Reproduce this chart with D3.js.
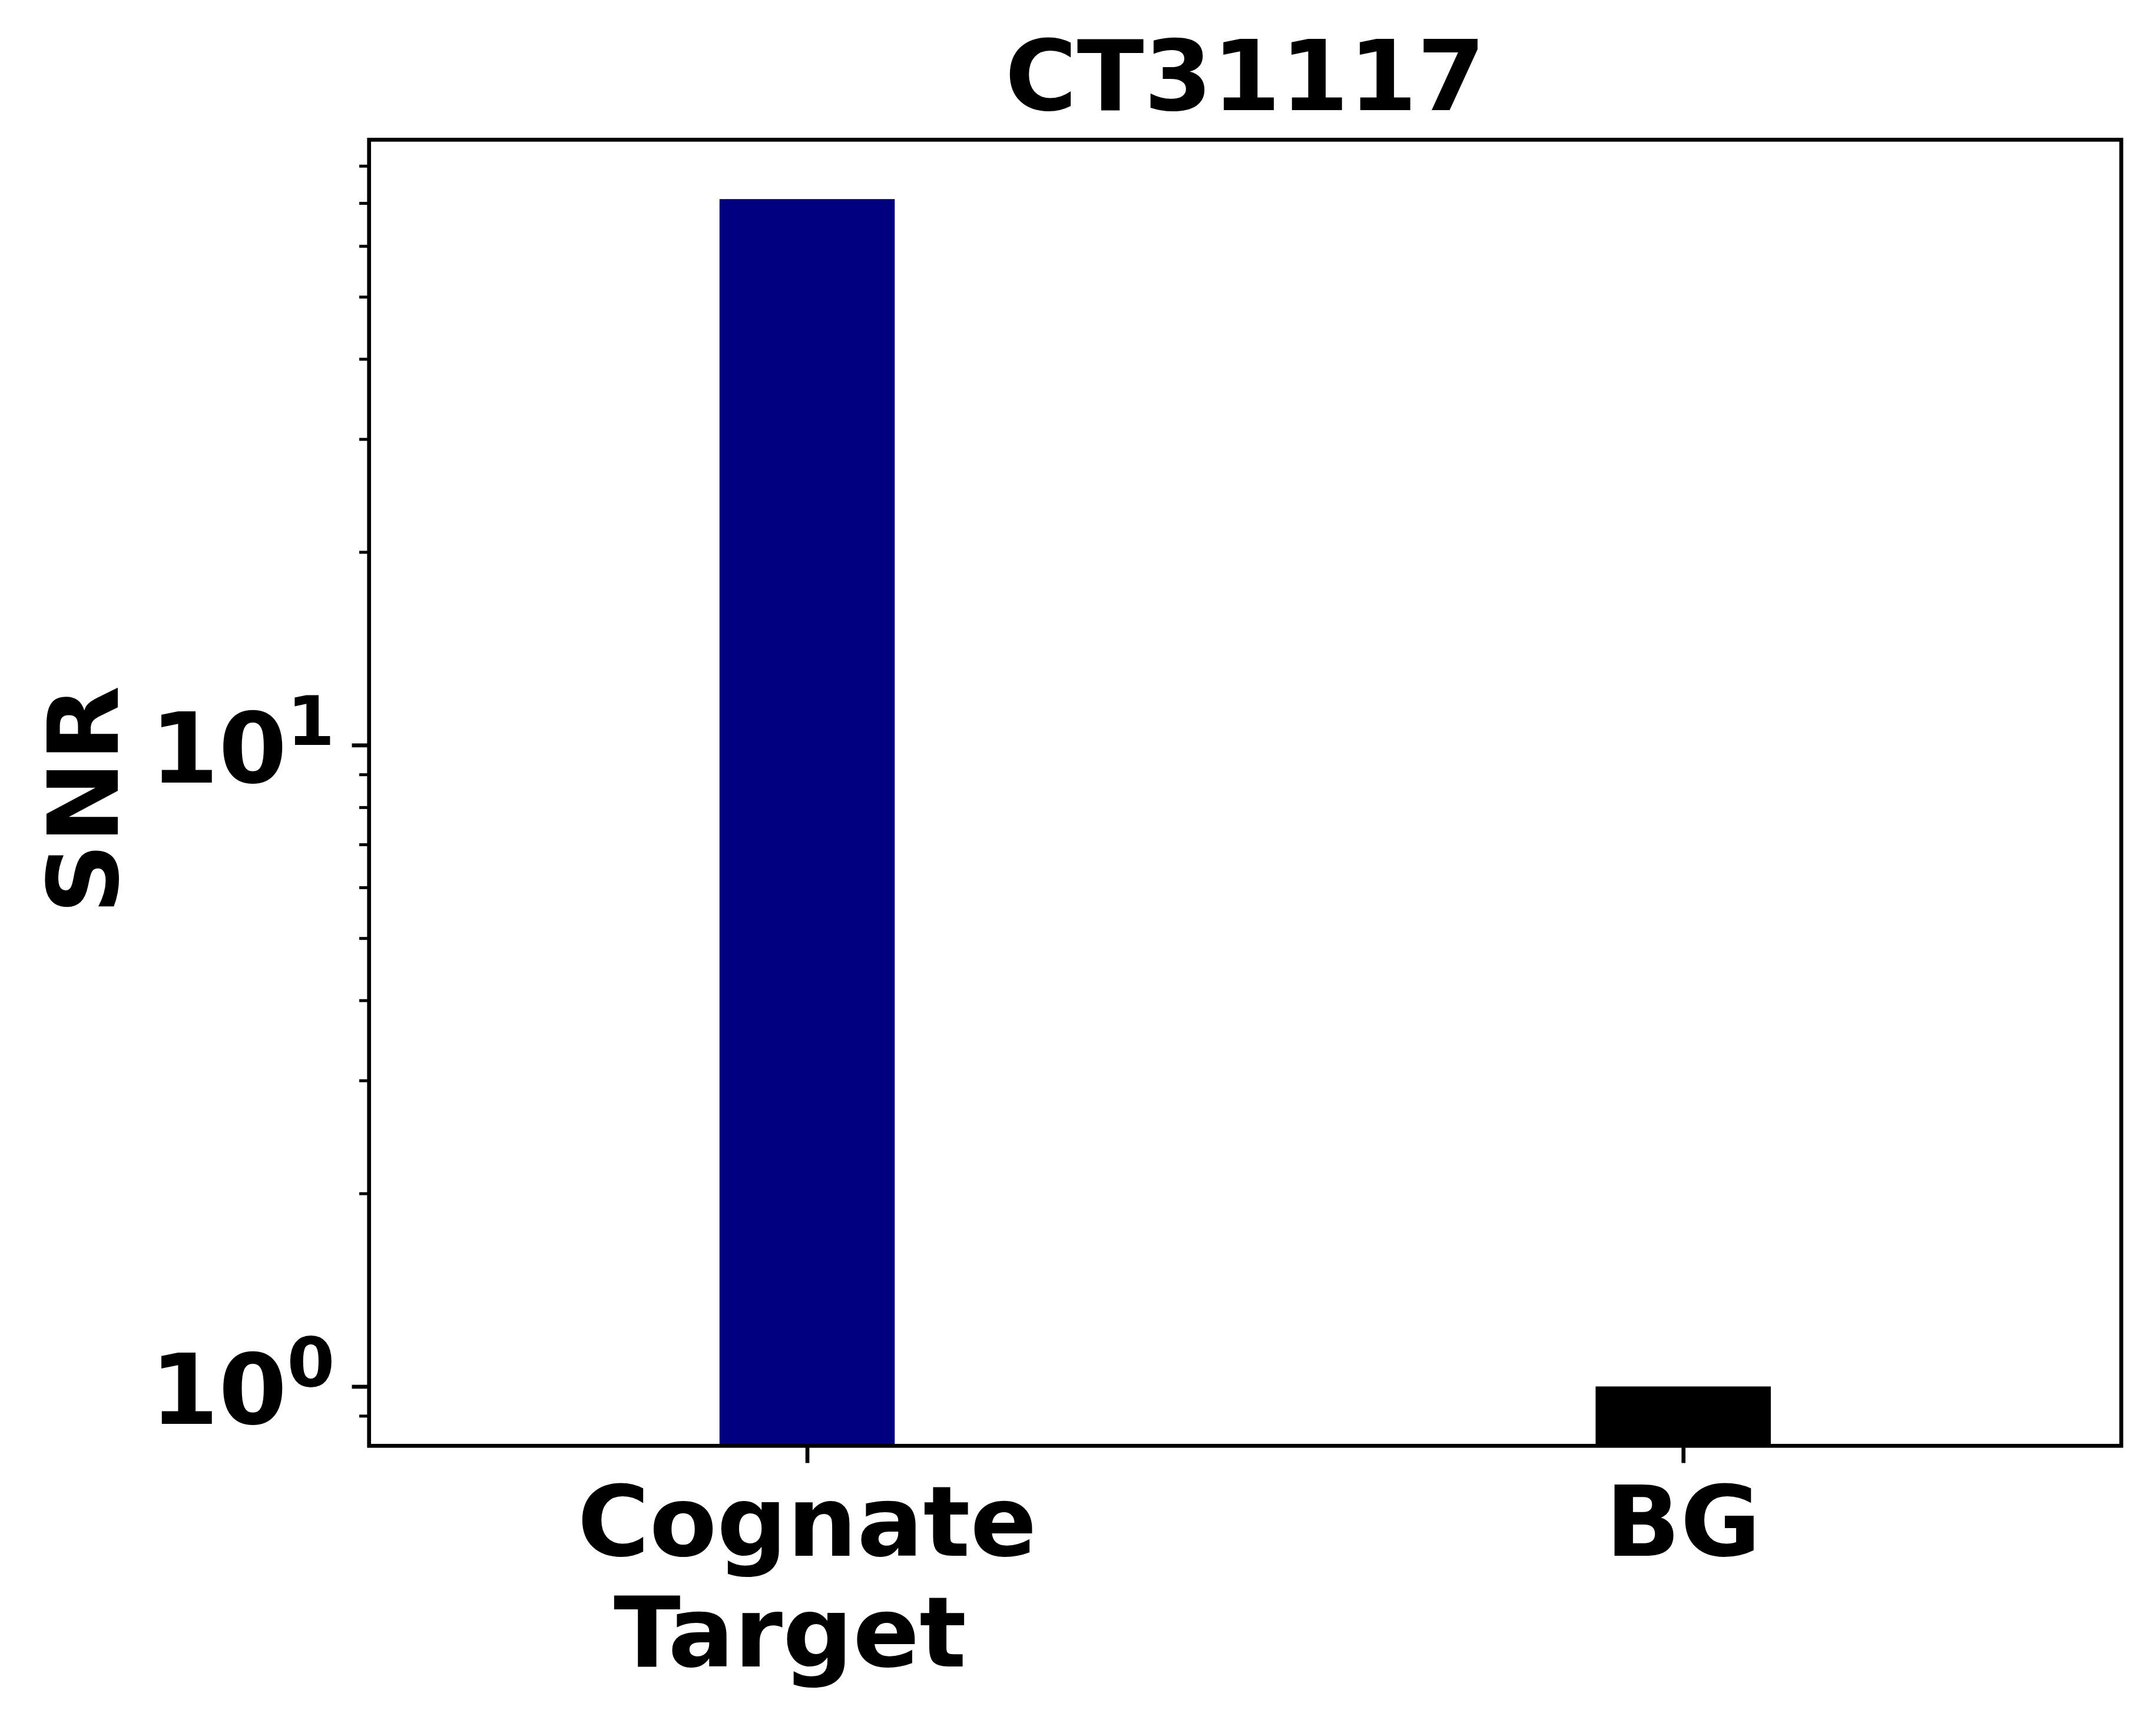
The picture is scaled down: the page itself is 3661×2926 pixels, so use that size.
<!DOCTYPE html>
<html>
<head>
<meta charset="utf-8">
<title>CT31117</title>
<style>
  body { margin: 0; background: #fff; }
  text { font-family: "DejaVu Sans"; font-weight: bold; fill: #000; }
</style>
</head>
<body>
<script src="https://cdn.jsdelivr.net/npm/d3@7"></script>
<script>

var categories = ['Cognate\nTarget ', 'BG'],
    snr        = [71.0, 1.0],
    colors     = ['#000080', '#000000'],
    majorTicks = [1, 10],
    minorTicks = [0.9, 2, 3, 4, 5, 6, 7, 8, 9, 20, 30, 40, 50, 60, 70, 80],
    title      = 'CT31117',
    yLabel     = 'SNR';

var W = 3661, H = 2926,
    pt = 600 / 72,               // figure was 600 dpi
    m = {top: 237.3, right: 59, bottom: 470.7, left: 626.7},
    w = W - m.left - m.right,
    h = H - m.top - m.bottom,
    fs = 20 * pt;

var svg = d3.select('body').append('svg')
            .attr('width', W)
            .attr('height', H),
    g = svg.append('g')
           .attr('transform', 'translate(' + m.left + ',' + m.top + ')');

var x = d3.scaleLinear()
          .domain([-0.5, categories.length - 0.5])
          .range([0, w]);

// log autoscale with 5% margins, like matplotlib
var lo = Math.log10(d3.min(snr)),
    hi = Math.log10(d3.max(snr)),
    pad = 0.05 * (hi - lo),
    y = d3.scaleLog()
          .domain([Math.pow(10, lo - pad), Math.pow(10, hi + pad)])
          .range([h, 0]);

var barW = x(0.1) - x(-0.1);

g.selectAll('rect.bar')
 .data(snr)
 .enter()
 .append('rect')
 .attr('class', 'bar')
 .attr('x', function(d, i){ return x(i) - barW / 2 })
 .attr('y', function(d){ return y(d) })
 .attr('width', barW)
 .attr('height', function(d){ return h - y(d) })
 .attr('fill', function(d, i){ return colors[i] });

// x axis ticks
var xa = g.append('g')
          .attr('transform', 'translate(0,' + h + ')')
          .call(d3.axisBottom(x)
                  .tickValues(d3.range(categories.length))
                  .tickSize(3.5 * pt)
                  .tickFormat(''));
xa.select('.domain').remove();
xa.selectAll('line').attr('stroke', '#000').attr('stroke-width', 0.8 * pt);

var xl = g.selectAll('text.xl')
          .data(categories)
          .enter()
          .append('text')
          .attr('class', 'xl')
          .attr('text-anchor', 'middle')
          .style('font-size', fs + 'px')
          .style('white-space', 'pre')
          .attr('y', h + 186.7);

xl.each(function(d, i){
  d3.select(this).selectAll('tspan')
    .data(d.split('\n'))
    .enter()
    .append('tspan')
    .attr('x', x(i))
    .attr('dy', function(s, j){ return j ? 188 : 0 })
    .text(function(s){ return s });
});

// y axis: major + minor ticks
var ya = g.append('g')
          .call(d3.axisLeft(y).tickValues(majorTicks).tickSize(3.5 * pt).tickFormat(''));
ya.select('.domain').remove();
ya.selectAll('line').attr('stroke', '#000').attr('stroke-width', 0.8 * pt);

var ym = g.append('g')
          .call(d3.axisLeft(y).tickValues(minorTicks).tickSize(2 * pt).tickFormat(''));
ym.select('.domain').remove();
ym.selectAll('line').attr('stroke', '#000').attr('stroke-width', 0.6 * pt);

var yl = g.selectAll('text.yl')
          .data(majorTicks)
          .enter()
          .append('text')
          .attr('class', 'yl')
          .attr('text-anchor', 'end')
          .style('font-size', fs + 'px')
          .attr('x', -7 * pt)
          .attr('y', function(d){ return y(d) + 64 });

yl.append('tspan').text('10');
yl.append('tspan')
  .attr('dy', -64)
  .style('font-size', (0.7 * fs) + 'px')
  .text(function(d){ return Math.round(Math.log10(d)) });

// frame
g.append('rect')
 .attr('width', w)
 .attr('height', h)
 .attr('fill', 'none')
 .attr('stroke', '#000')
 .attr('stroke-width', 0.8 * pt);

g.append('text')
 .attr('x', w / 2)
 .attr('y', -6 * pt)
 .attr('text-anchor', 'middle')
 .style('font-size', fs + 'px')
 .text(title);

g.append('text')
 .attr('transform', 'translate(' + (200 - m.left) + ',' + (h / 2 + 12) + ') rotate(-90)')
 .attr('text-anchor', 'middle')
 .style('font-size', fs + 'px')
 .text(yLabel);

</script>
</body>
</html>
